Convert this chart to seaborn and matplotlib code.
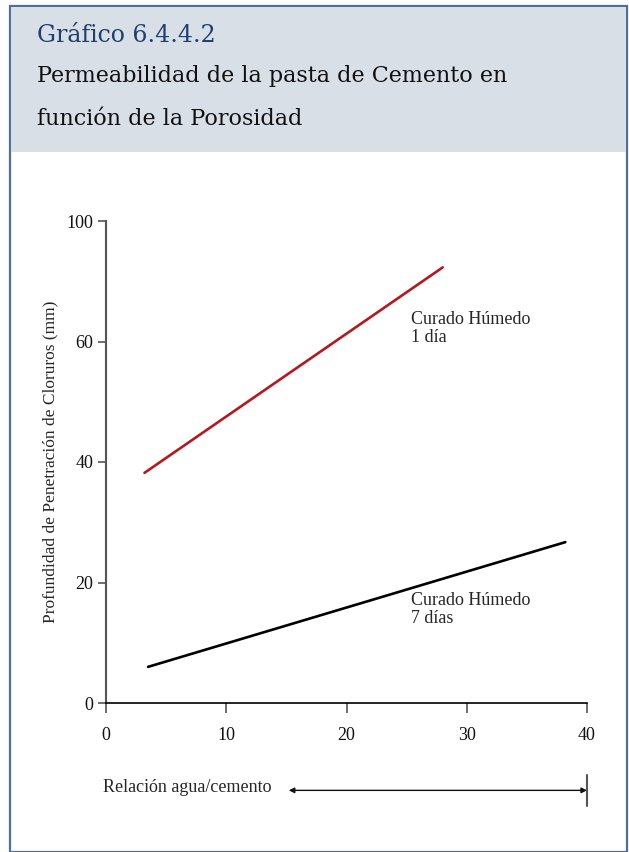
import pandas as pd
import matplotlib.pyplot as plt
import seaborn as sns
from matplotlib.patches import Rectangle
from matplotlib.lines import Line2D

# Datos
dias_1_x = [3.2, 28.0]
dias_1_y = [38.2, 72.3]
dias_7_x = [3.5, 38.2]
dias_7_y = [6.0, 26.7]
x_ticks = [0, 10, 20, 30, 40]
y_ticks = [0, 20, 40, 60, 80]
y_tick_labels = ['0', '20', '40', '60', '100']

df = pd.concat([
    pd.DataFrame({'x': dias_1_x, 'y': dias_1_y, 'serie': '1 día'}),
    pd.DataFrame({'x': dias_7_x, 'y': dias_7_y, 'serie': '7 días'}),
])

sns.set_style('white')
plt.rcParams['font.family'] = ['Liberation Serif', 'DejaVu Serif']

fig = plt.figure(figsize=(6.29, 8.52), dpi=100)

# Marco y encabezado (detras de los ejes)
fig.patches.append(Rectangle((10 / 629, 0), 617 / 629, 1 - 6 / 852, transform=fig.transFigure,
                             facecolor='white', edgecolor='#4f6f9a', linewidth=1.6, zorder=-10))
fig.patches.append(Rectangle((11 / 629, 1 - 152 / 852), 615 / 629, 145 / 852, transform=fig.transFigure,
                             facecolor='#d9dfe7', edgecolor='none', zorder=-9))
fig.text(37 / 629, 1 - 35 / 852, 'Gráfico 6.4.4.2', color='#1f3f6e', fontsize=17, va='center',
         family='DejaVu Serif')
fig.text(37 / 629, 1 - 76 / 852, 'Permeabilidad de la pasta de Cemento en', color='#111111',
         fontsize=16, va='center', family='DejaVu Serif')
fig.text(37 / 629, 1 - 119 / 852, 'función de la Porosidad', color='#111111', fontsize=16, va='center',
         family='DejaVu Serif')

ax = fig.add_axes([106 / 629, 1 - 703 / 852, 481 / 629, 482 / 852])
sns.lineplot(data=df, x='x', y='y', hue='serie', palette={'1 día': '#b5181e', '7 días': '#000000'},
             linewidth=1.9, legend=False, ax=ax)

ax.set_xlim(0, 40)
ax.set_ylim(0, 80)
ax.set_xticks(x_ticks)
ax.set_yticks(y_ticks)
ax.set_yticklabels(y_tick_labels)
ax.set_xlabel('')
ax.set_ylabel('Profundidad de Penetración de Cloruros (mm)', fontsize=12.5, labelpad=6)
ax.tick_params(axis='both', labelsize=13, colors='#555555', labelcolor='#111111', direction='out',
               width=1.2, bottom=True, left=True)
ax.tick_params(axis='x', length=7.5, pad=10)
ax.tick_params(axis='y', length=6, pad=3)
for s in ['top', 'right']:
    ax.spines[s].set_visible(False)
ax.spines['left'].set_color('#555555')
ax.spines['left'].set_linewidth(1.5)
ax.spines['bottom'].set_color('#000000')
ax.spines['bottom'].set_linewidth(1.2)
ax.patch.set_alpha(0)

ax.text(25.4, 62.2, 'Curado Húmedo\n1 día', fontsize=13, va='center', linespacing=1.05)
ax.text(25.4, 15.5, 'Curado Húmedo\n7 días', fontsize=13, va='center', linespacing=1.05)

# Relacion agua/cemento
fig.text(103 / 629, 1 - 787 / 852, 'Relación agua/cemento', fontsize=13, va='center')
ax.annotate('', xy=(40, -14.5), xytext=(15.2, -14.5), xycoords='data', textcoords='data',
            annotation_clip=False,
            arrowprops=dict(arrowstyle='<|-|>', color='#111111', lw=1, mutation_scale=8,
                            shrinkA=0, shrinkB=0))
fig.lines.append(Line2D([587 / 629, 587 / 629], [1 - 775 / 852, 1 - 806 / 852], transform=fig.transFigure,
                        color='#555555', linewidth=1.5))

fig.savefig('out.png', dpi=100)
